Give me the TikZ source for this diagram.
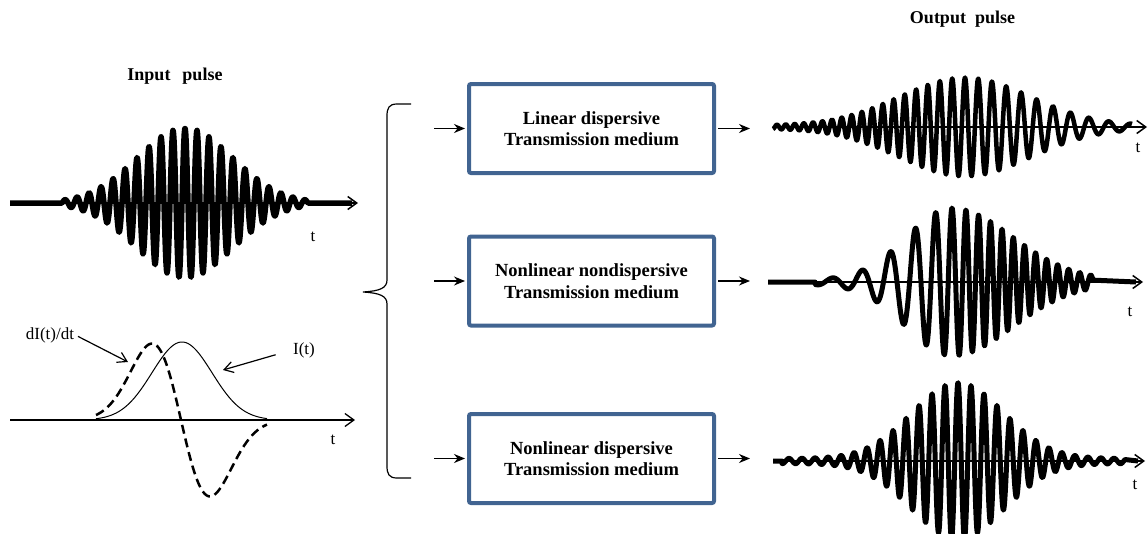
\documentclass[tikz,border=0pt]{standalone}
\usepackage{fontspec}
\setmainfont{Liberation Serif}
\usetikzlibrary{arrows.meta}
\definecolor{boxblue}{RGB}{65,100,145}
\begin{document}
\begin{tikzpicture}[x=1pt,y=-1pt,
  mbox/.style={draw=boxblue, line width=4pt, rounded corners=2pt, minimum width=245pt, minimum height=89pt, inner sep=2pt, align=center, font=\bfseries\fontsize{18.5}{21.5}\selectfont},
  wave/.style={line width=5pt, line join=round},
  axis/.style={line width=1.5pt, -{Straight Barb[length=9pt,width=13pt]}},
  flow/.style={line width=1.3pt, -{Stealth[length=11pt,width=9pt]}},
  ptr/.style={line width=1.2pt, -{Straight Barb[length=9pt,width=11pt]}},
  lbl/.style={font=\fontsize{17}{20}\selectfont, inner sep=1pt},
  ttl/.style={font=\bfseries\fontsize{18}{21}\selectfont, inner sep=1pt},
  declare function={
    inp(\x)=75*exp(-0.5*((\x-185)/48)^2)*cos(360*((\x-185)/12));
    oa(\x)=(48*exp(-0.5*((\x-965)/65)^2)+1.5)*cos(360*((\x-965)/13-((\x-965)/100)^2));
    obp(\x)=(\x-945)/30+1.15152*ln(1+exp((\x-945)/20));
    ob(\x)=(72*exp(-0.5*((\x-952)/(45+15*(\x>952)))^2)+2)*cos(360*(obp(\x)-obp(952)));
    oc(\x)=(76*exp(-0.5*((\x-958)/46)^2)+2.5)*cos(360*((\x-958)/13));
    gI(\x)=78*exp(-0.5*((\x-182)/30)^2);
    dI(\x)=126*((\x-181)/29)*exp(-0.5*((\x-181)/29)^2);
  }
]
\clip (0,0) rectangle (1148,533);

% titles
\node[ttl] (tin) at (175,76) {Input\hspace{12pt}pulse};
\node[ttl, anchor=base] (tout) at (962.5,23) {Output\hspace{9pt}pulse};

% input pulse
\coordinate (ia0) at (10,203);
\coordinate (ia1) at (358,203);
\draw[wave, line width=5.5pt] (ia0) -- (62,203) -- plot[domain=62:308,samples=500] (\x,{203-inp(\x)}) -- (352,203);
\draw[axis] (ia0) -- (ia1);
\node[lbl] (t0) at (313,237) {t};

% intensity and derivative
\coordinate (ba0) at (10,420);
\coordinate (ba1) at (355,420);
\draw[axis, line width=1.3pt] (ba0) -- (ba1);
\draw[line width=1pt] plot[domain=96:267,samples=150] (\x,{420-gI(\x)});
\draw[line width=2.5pt, dash pattern=on 9pt off 5pt] plot[domain=96:267,samples=150] (\x,{420+dI(\x)});
\node[lbl] (tb) at (333,440) {t};
\node[lbl] (dl) at (50,335) {dI(t)/dt};
\coordinate (dlA) at (128,362);
\draw[ptr, shorten <=3pt] (dl.east) -- (dlA);
\node[lbl] (il) at (304,350) {I(t)};
\coordinate (ilA) at (223,370);
\draw[ptr, shorten <=17pt] (il.west) -- (ilA);

% brace
\draw[line width=1.2pt] (411,104) -- (397,104) .. controls (389,104) and (387,108) .. (387,116) -- (387,280)
  .. controls (387,288) and (380,291) .. (363,292) .. controls (380,293) and (387,296) .. (387,304)
  -- (387,466) .. controls (387,474) and (389,478) .. (397,478) -- (411,478);

% boxes
\node[mbox] (b1) at (591.5,128.5) {Linear dispersive\\Transmission medium};
\node[mbox] (b2) at (591.5,281) {Nonlinear nondispersive\\Transmission medium};
\node[mbox] (b3) at (591.5,458.5) {Nonlinear dispersive\\Transmission medium};

\coordinate (i1) at (434,128.5);
\coordinate (i2) at (434,281);
\coordinate (i3) at (434,458.5);
\coordinate (o1) at (750,128.5);
\coordinate (o2) at (750,281);
\coordinate (o3) at (750,458.5);
\draw[flow, shorten >=2pt] (i1) -- (b1.west);
\draw[flow, shorten >=2pt] (i2) -- (b2.west);
\draw[flow, shorten >=2pt] (i3) -- (b3.west);
\draw[flow, shorten <=2pt] (b1.east) -- (o1);
\draw[flow, shorten <=2pt] (b2.east) -- (o2);
\draw[flow, shorten <=2pt] (b3.east) -- (o3);

% output 1
\coordinate (a10) at (773,127);
\coordinate (a11) at (1147,127);
\draw[wave, line width=4.5pt] plot[domain=773:1132,samples=700] (\x,{127-oa(\x)});
\draw[axis] (a10) -- (a11);
\node[lbl] (t1) at (1138,148) {t};

% output 2
\coordinate (a20) at (768,282);
\coordinate (a21) at (1143,282);
\draw[wave] (a20) -- (815,282) -- plot[domain=815:1093,samples=600] (\x,{282-ob(\x)}) -- (1136,282);
\draw[axis] (a20) -- (a21);
\node[lbl] (t2) at (1130,312) {t};

% output 3
\coordinate (a30) at (773,461);
\coordinate (a31) at (1145,461);
\draw[wave] (a30) -- (782,461) -- plot[domain=782:1125,samples=700] (\x,{461-oc(\x)}) -- (1138,461);
\draw[axis] (a30) -- (a31);
\node[lbl] (t3) at (1135,485) {t};
\end{tikzpicture}
\end{document}
